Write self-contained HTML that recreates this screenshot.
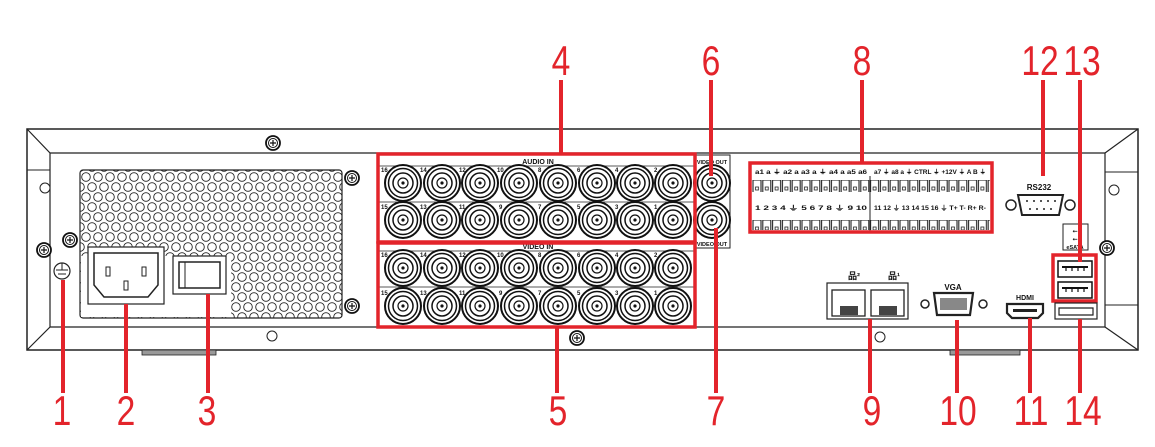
<!DOCTYPE html>
<html><head><meta charset="utf-8"><style>
html,body{margin:0;padding:0;background:#fff;}
svg{display:block;}
.n{font-family:"Liberation Sans",sans-serif;font-size:42px;fill:#e3242b;}
.s{font-family:"Liberation Sans",sans-serif;font-weight:bold;fill:#111;}
</style></head><body>
<svg width="1155" height="447" viewBox="0 0 1155 447" xmlns="http://www.w3.org/2000/svg">
<defs>
<pattern id="vent" x="80" y="172" width="12" height="20" patternUnits="userSpaceOnUse">
<circle cx="6" cy="5" r="4.3" fill="none" stroke="#222" stroke-width="0.9"/>
<circle cx="0" cy="15" r="4.3" fill="none" stroke="#222" stroke-width="0.9"/>
<circle cx="12" cy="15" r="4.3" fill="none" stroke="#222" stroke-width="0.9"/>
</pattern>
<pattern id="term" x="752" y="0" width="9.8" height="20" patternUnits="userSpaceOnUse">
<rect x="1" y="0" width="8" height="14" fill="#fff" stroke="#222" stroke-width="1.1"/>
<rect x="3.5" y="7" width="3" height="3" fill="none" stroke="#222" stroke-width="0.8"/>
</pattern>
<g id="bnc">
<circle r="18" fill="#fff" stroke="#111" stroke-width="2"/>
<circle r="14.5" fill="none" stroke="#111" stroke-width="1.5"/>
<circle r="10" fill="none" stroke="#111" stroke-width="1.5"/>
<circle r="5" fill="none" stroke="#111" stroke-width="1.2"/>
<circle r="1.6" fill="#111"/>
</g>
<g id="screw">
<circle r="7" fill="#fff" stroke="#111" stroke-width="1.8"/>
<circle r="4.5" fill="none" stroke="#111" stroke-width="1"/>
<path d="M-3 0H3M0 -3V3" stroke="#111" stroke-width="1.2"/>
</g>
<g id="usb">
<rect x="-17" y="-8" width="34" height="16" fill="#fff" stroke="#111" stroke-width="1.5"/>
<rect x="-13" y="-3" width="26" height="2" fill="#111"/>
<path d="M-9 -1v3M-3 -1v3M3 -1v3M9 -1v3" stroke="#111" stroke-width="1.2"/>
</g>
</defs>

<!-- chassis -->
<path d="M27 129H1138V350H27Z" fill="#fff" stroke="#222" stroke-width="1.5"/>
<path d="M27 129L50 153V327L27 350" fill="none" stroke="#222" stroke-width="1.2"/>
<path d="M50 153H1105V327H50" fill="none" stroke="#222" stroke-width="1.2"/>
<path d="M1138 129L1105 153M1105 327L1138 350" fill="none" stroke="#222" stroke-width="1.2"/>
<path d="M27 170H50M1105 172H1138M1105 305H1138" stroke="#222" stroke-width="1"/>
<rect x="142" y="350" width="74" height="5" fill="#999" stroke="#222" stroke-width="0.8"/>
<rect x="950" y="350" width="70" height="5" fill="#999" stroke="#222" stroke-width="0.8"/>
<circle cx="45" cy="188" r="5" fill="#fff" stroke="#222"/>
<circle cx="1114" cy="190" r="5" fill="#fff" stroke="#222"/>
<circle cx="272" cy="336" r="5" fill="#fff" stroke="#222"/>
<circle cx="880" cy="337" r="5" fill="#fff" stroke="#222"/>
<use href="#screw" x="273" y="143"/>
<use href="#screw" x="44" y="250"/>
<use href="#screw" x="70" y="240"/>
<use href="#screw" x="352" y="178"/>
<use href="#screw" x="352" y="306"/>
<use href="#screw" x="577" y="338"/>
<use href="#screw" x="1107" y="248"/>

<!-- vent -->
<rect x="80" y="170" width="262" height="148" rx="3" fill="url(#vent)" stroke="#222" stroke-width="1.2"/>
<rect x="81" y="246" width="150" height="71" fill="#fff"/>
<rect x="81" y="246" width="150" height="10" fill="url(#vent)"/>
<!-- ground -->
<circle cx="62" cy="271" r="8" fill="#fff" stroke="#222" stroke-width="1.2"/>
<path d="M56 270H68M58 274H66M62 263V270" stroke="#222" stroke-width="1"/>
<!-- power socket -->
<rect x="88" y="247" width="76" height="57" fill="#fff" stroke="#222" stroke-width="1.2"/>
<path d="M94 253H158V285L148 297H104L94 285Z" fill="#fff" stroke="#222" stroke-width="1.5"/>
<rect x="106" y="267" width="4" height="9" fill="#fff" stroke="#222"/>
<rect x="142" y="267" width="4" height="9" fill="#fff" stroke="#222"/>
<rect x="124" y="281" width="4" height="9" fill="#fff" stroke="#222"/>
<!-- switch -->
<rect x="173" y="256" width="53" height="38" fill="#fff" stroke="#222" stroke-width="1.2"/>
<rect x="179" y="262" width="41" height="26" fill="#fff" stroke="#222" stroke-width="1.5"/>
<path d="M185 262V288" stroke="#222"/>

<!-- BNC blocks -->
<rect x="378" y="155" width="317" height="172" fill="#fff" stroke="#222" stroke-width="1"/>
<path d="M378 166H695M378 202H695M378 251H695M378 287H695" stroke="#222" stroke-width="0.8"/>
<rect x="695" y="155" width="35" height="93" fill="#fff" stroke="#222" stroke-width="1"/>
<text x="538" y="164" class="s" font-size="7" text-anchor="middle">AUDIO IN</text>
<text x="538" y="249" class="s" font-size="7" text-anchor="middle">VIDEO IN</text>
<text x="712" y="164" class="s" font-size="5.5" text-anchor="middle">VIDEO OUT</text>
<text x="712" y="246" class="s" font-size="5.5" text-anchor="middle">VIDEO OUT</text>
<g>
<use href="#bnc" x="403" y="183"/><use href="#bnc" x="442" y="183"/><use href="#bnc" x="480" y="183"/><use href="#bnc" x="519" y="183"/><use href="#bnc" x="558" y="183"/><use href="#bnc" x="597" y="183"/><use href="#bnc" x="635" y="183"/><use href="#bnc" x="673" y="183"/>
<use href="#bnc" x="403" y="220"/><use href="#bnc" x="442" y="220"/><use href="#bnc" x="480" y="220"/><use href="#bnc" x="519" y="220"/><use href="#bnc" x="558" y="220"/><use href="#bnc" x="597" y="220"/><use href="#bnc" x="635" y="220"/><use href="#bnc" x="673" y="220"/>
<use href="#bnc" x="403" y="268"/><use href="#bnc" x="442" y="268"/><use href="#bnc" x="480" y="268"/><use href="#bnc" x="519" y="268"/><use href="#bnc" x="558" y="268"/><use href="#bnc" x="597" y="268"/><use href="#bnc" x="635" y="268"/><use href="#bnc" x="673" y="268"/>
<use href="#bnc" x="403" y="306"/><use href="#bnc" x="442" y="306"/><use href="#bnc" x="480" y="306"/><use href="#bnc" x="519" y="306"/><use href="#bnc" x="558" y="306"/><use href="#bnc" x="597" y="306"/><use href="#bnc" x="635" y="306"/><use href="#bnc" x="673" y="306"/>
<use href="#bnc" x="712" y="183"/><use href="#bnc" x="712" y="220"/>
</g>
<g class="s" font-size="6">
<text x="381" y="172">16</text><text x="420" y="172">14</text><text x="459" y="172">12</text><text x="497" y="172">10</text><text x="538" y="172">8</text><text x="577" y="172">6</text><text x="615" y="172">4</text><text x="654" y="172">2</text>
<text x="381" y="209">15</text><text x="420" y="209">13</text><text x="459" y="209">11</text><text x="499" y="209">9</text><text x="538" y="209">7</text><text x="577" y="209">5</text><text x="615" y="209">3</text><text x="654" y="209">1</text>
<text x="381" y="257">16</text><text x="420" y="257">14</text><text x="459" y="257">12</text><text x="497" y="257">10</text><text x="538" y="257">8</text><text x="577" y="257">6</text><text x="615" y="257">4</text><text x="654" y="257">2</text>
<text x="381" y="295">15</text><text x="420" y="295">13</text><text x="459" y="295">11</text><text x="499" y="295">9</text><text x="538" y="295">7</text><text x="577" y="295">5</text><text x="615" y="295">3</text><text x="654" y="295">1</text>
</g>
<rect x="378" y="154" width="317" height="88" fill="none" stroke="#e3242b" stroke-width="3.5"/>
<rect x="378" y="243" width="317" height="84" fill="none" stroke="#e3242b" stroke-width="3.5"/>

<!-- terminal block -->
<rect x="752" y="163" width="240" height="69" fill="#fff"/>
<text x="755" y="174" class="s" font-size="6" textLength="112" lengthAdjust="spacingAndGlyphs">a1 a ⏚ a2 a a3 a ⏚ a4 a a5 a6</text>
<text x="874" y="174" class="s" font-size="6" textLength="112" lengthAdjust="spacingAndGlyphs">a7 ⏚ a8 a ⏚ CTRL ⏚ +12V ⏚ A B ⏚</text>
<rect x="752" y="178" width="238" height="14" fill="url(#term)"/>
<text x="755" y="210" class="s" font-size="6.5" textLength="112" lengthAdjust="spacingAndGlyphs">1 2 3 4 ⏚ 5 6 7 8 ⏚ 9 10</text>
<text x="874" y="210" class="s" font-size="6.5" textLength="112" lengthAdjust="spacingAndGlyphs">11 12 ⏚ 13 14 15 16 ⏚ T+ T- R+ R-</text>
<rect x="752" y="216" width="238" height="14" fill="url(#term)"/>
<path d="M870 176V232" stroke="#222" stroke-width="1"/>
<rect x="750" y="163" width="242" height="69" fill="none" stroke="#e3242b" stroke-width="3.5"/>

<!-- RS232 -->
<text x="1039" y="190" class="s" font-size="8" text-anchor="middle">RS232</text>
<circle cx="1011" cy="205" r="5" fill="#fff" stroke="#222" stroke-width="1.5"/>
<circle cx="1070" cy="205" r="5" fill="#fff" stroke="#222" stroke-width="1.5"/>
<path d="M1018 195H1063L1059 215H1022Z" fill="#fff" stroke="#222" stroke-width="2"/>
<g fill="#222"><circle cx="1027" cy="201" r="1"/><circle cx="1034" cy="201" r="1"/><circle cx="1041" cy="201" r="1"/><circle cx="1048" cy="201" r="1"/><circle cx="1055" cy="201" r="1"/><circle cx="1030" cy="209" r="1"/><circle cx="1037" cy="209" r="1"/><circle cx="1044" cy="209" r="1"/><circle cx="1051" cy="209" r="1"/></g>

<!-- USB / eSATA -->
<rect x="1063" y="224" width="25" height="26" fill="#fff" stroke="#222" stroke-width="1"/>
<text x="1075" y="233" class="s" font-size="6" text-anchor="middle">⭠</text>
<text x="1075" y="241" class="s" font-size="6" text-anchor="middle">⭠</text>
<text x="1075" y="249" class="s" font-size="5.5" text-anchor="middle">eSATA</text>
<rect x="1054" y="256" width="42" height="46" fill="#fff"/>
<use href="#usb" x="1075" y="269"/>
<use href="#usb" x="1075" y="290"/>
<rect x="1053" y="255" width="43" height="46" fill="none" stroke="#e3242b" stroke-width="3.5"/>
<rect x="1055" y="303" width="42" height="16" fill="#fff" stroke="#222" stroke-width="1.2"/>
<path d="M1059 308H1093V315H1059Z" fill="#fff" stroke="#222" stroke-width="1.2"/>

<!-- Network -->
<text x="848" y="279" class="s" font-size="9">品²</text>
<text x="888" y="279" class="s" font-size="9">品¹</text>
<rect x="827" y="283" width="81" height="36" fill="#fff" stroke="#222" stroke-width="1.2"/>
<rect x="832" y="290" width="33" height="26" fill="#fff" stroke="#222" stroke-width="1.3"/>
<rect x="871" y="290" width="33" height="26" fill="#fff" stroke="#222" stroke-width="1.3"/>
<rect x="840" y="306" width="18" height="9" fill="#444"/>
<rect x="879" y="306" width="18" height="9" fill="#444"/>
<!-- VGA -->
<text x="953" y="290" class="s" font-size="8" text-anchor="middle">VGA</text>
<circle cx="925" cy="304" r="4" fill="#fff" stroke="#222" stroke-width="1.5"/>
<circle cx="983" cy="304" r="4" fill="#fff" stroke="#222" stroke-width="1.5"/>
<path d="M934 293H973L970 315H937Z" fill="#fff" stroke="#222" stroke-width="2.2"/>
<rect x="940" y="298" width="27" height="12" fill="#888"/>
<!-- HDMI -->
<text x="1025" y="300" class="s" font-size="7" text-anchor="middle">HDMI</text>
<path d="M1007 304H1043V313L1038 318H1012L1007 313Z" fill="#fff" stroke="#222" stroke-width="2.2"/>
<rect x="1013" y="309" width="24" height="3" fill="#222"/>

<!-- red leader lines -->
<g stroke="#e3242b" stroke-width="4">
<path d="M63 280V393"/><path d="M126 304V393"/><path d="M208 294V393"/>
<path d="M561 80V154"/><path d="M557 327V393"/>
<path d="M711 80V176"/><path d="M716 228V393"/>
<path d="M862 80V163"/>
<path d="M870 319V393"/><path d="M957 320V393"/><path d="M1030 318V393"/>
<path d="M1043 80V176"/><path d="M1080 80V262"/><path d="M1080 319V393"/>
</g>
<!-- numbers -->
<g class="n" text-anchor="middle">
<text transform="translate(561 75) scale(0.8 1)">4</text>
<text transform="translate(711 75) scale(0.8 1)">6</text>
<text transform="translate(862 75) scale(0.8 1)">8</text>
<text transform="translate(1040 75) scale(0.8 1)">12</text>
<text transform="translate(1082 75) scale(0.8 1)">13</text>
<text transform="translate(62 425) scale(0.8 1)">1</text>
<text transform="translate(126 425) scale(0.8 1)">2</text>
<text transform="translate(207 425) scale(0.8 1)">3</text>
<text transform="translate(558 425) scale(0.8 1)">5</text>
<text transform="translate(716 425) scale(0.8 1)">7</text>
<text transform="translate(872 425) scale(0.8 1)">9</text>
<text transform="translate(958 425) scale(0.8 1)">10</text>
<text transform="translate(1031 425) scale(0.8 1)">11</text>
<text transform="translate(1083 425) scale(0.8 1)">14</text>
</g>
</svg>
</body></html>
